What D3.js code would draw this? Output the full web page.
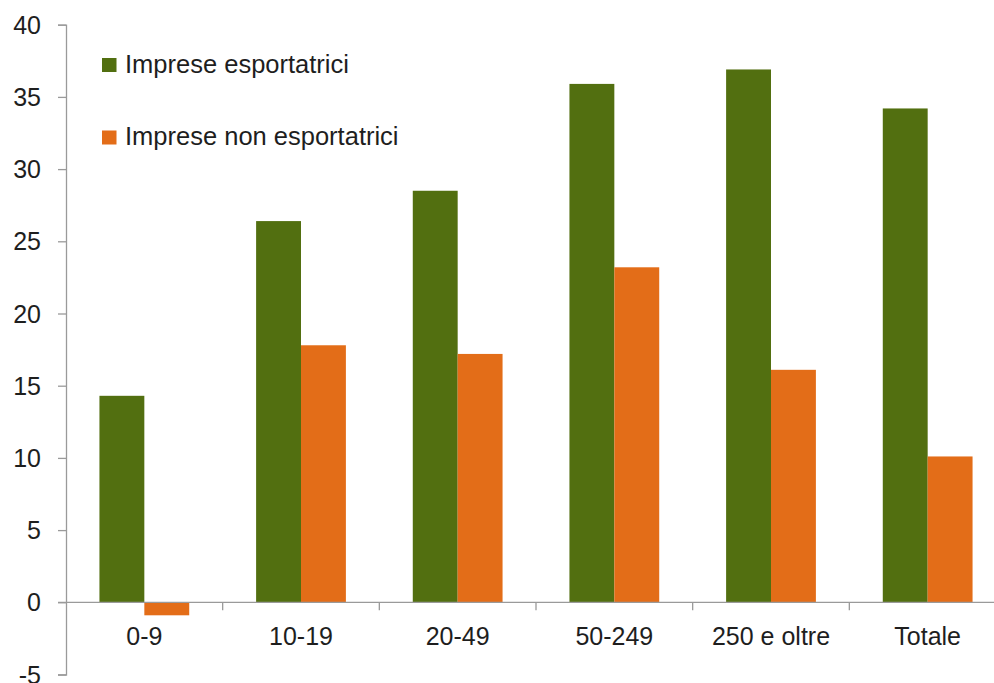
<!DOCTYPE html>
<html lang="it">
<head>
    <meta charset="utf-8">
    <style>
        body { margin: 0; background: #fff; }
        svg { display: block; }
        text { font-family: "Liberation Sans", Arial, sans-serif; fill: #1e1e1e; }
    </style>
</head>
<body>
    <svg width="994" height="683"></svg>
    <script src="https://cdn.jsdelivr.net/npm/d3@7/dist/d3.min.js"></script>
    <script>
        // Data
        const categories = ["0-9", "10-19", "20-49", "50-249", "250 e oltre", "Totale"];
        const seriesNames = ["Imprese esportatrici", "Imprese non esportatrici"];
        const exporters = [14.3, 26.4, 28.5, 35.9, 36.9, 34.2];
        const nonExporters = [-0.9, 17.8, 17.2, 23.2, 16.1, 10.1];
        const yTicks = [-5, 0, 5, 10, 15, 20, 25, 30, 35, 40];
        const colors = ["#526f10", "#e36d18"];

        const svg = d3.select("svg");

        // Scales
        const x = d3.scaleBand().domain(categories).range([66, 1006]).padding(0);
        const xSub = d3.scaleBand().domain(seriesNames).range([0, x.bandwidth()])
            .paddingInner(0).paddingOuter(0.745);
        const y = d3.scaleLinear().domain([-5, 40]).range([674.5, 24.7]);

        const rows = categories.map((c, i) => ({ cat: c, values: [exporters[i], nonExporters[i]] }));

        // Bars
        const groups = svg.append("g").selectAll("g").data(rows).join("g")
            .attr("transform", d => `translate(${x(d.cat)},0)`);
        groups.selectAll("rect")
            .data(d => d.values.map((v, j) => ({ name: seriesNames[j], value: v, j })))
            .join("rect")
            .attr("x", d => xSub(d.name))
            .attr("width", xSub.bandwidth())
            .attr("y", d => y(Math.max(0, d.value)))
            .attr("height", d => Math.abs(y(d.value) - y(0)))
            .attr("fill", d => colors[d.j]);

        // Y axis (plain hyphen for negatives, as in the source)
        const yAxis = svg.append("g").attr("transform", "translate(66,0)")
            .call(d3.axisLeft(y).tickValues(yTicks).tickSize(8).tickPadding(17)
                .tickFormat(d => String(d)));
        yAxis.select(".domain").attr("stroke", "#9a9a9a").attr("stroke-width", 1.3);
        yAxis.selectAll(".tick line").attr("stroke", "#9a9a9a").attr("stroke-width", 1.3);
        yAxis.selectAll(".tick text").attr("font-size", 25).attr("dy", "0.34em")
            .style("font-family", "'Liberation Sans', Arial, sans-serif").attr("fill", "#1e1e1e");

        // X axis at zero
        const xAxis = svg.append("g").attr("transform", `translate(0,${y(0)})`);
        xAxis.append("line").attr("x1", 58).attr("x2", 994)
            .attr("stroke", "#9a9a9a").attr("stroke-width", 1.3);
        const boundaries = categories.map(c => x(c)).concat([x.range()[1]]).slice(1);
        xAxis.selectAll(".xtick").data(boundaries).join("line")
            .attr("class", "xtick")
            .attr("x1", d => d).attr("x2", d => d)
            .attr("y1", 0).attr("y2", 8)
            .attr("stroke", "#9a9a9a").attr("stroke-width", 1.3);
        xAxis.selectAll(".xlabel").data(categories).join("text")
            .attr("class", "xlabel")
            .attr("x", d => x(d) + x.bandwidth() / 2)
            .attr("y", 43)
            .attr("text-anchor", "middle")
            .attr("font-size", 25)
            .text(d => d);

        // Legend
        const legend = svg.append("g").selectAll("g").data(seriesNames).join("g")
            .attr("transform", (d, i) => `translate(102,${58 + i * 72.5})`);
        legend.append("rect").attr("width", 14.5).attr("height", 14)
            .attr("fill", (d, i) => colors[i]);
        legend.append("text").attr("x", 23).attr("y", 14.5)
            .attr("font-size", 25.5).text(d => d);
    </script>
</body>
</html>
